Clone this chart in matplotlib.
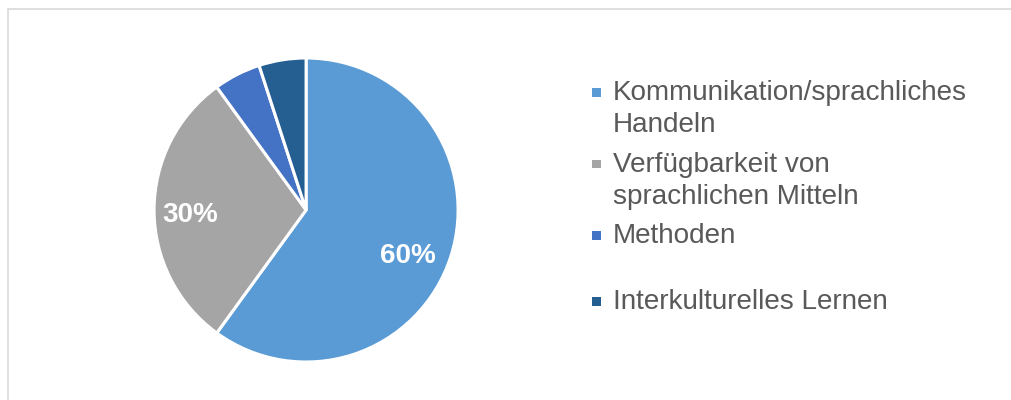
import matplotlib.pyplot as plt
from matplotlib.patches import Rectangle

# data
categories = ['Kommunikation/sprachliches\nHandeln',
              'Verfügbarkeit von\nsprachlichen Mitteln',
              'Methoden',
              'Interkulturelles Lernen']
shares = [60, 30, 5, 5]
colors = ['#5B9BD5', '#A5A5A5', '#4472C4', '#255E91']

plt.rcParams['font.family'] = ['Liberation Sans', 'DejaVu Sans']

fig = plt.figure(figsize=(10.11, 4.00), dpi=100)

# light grey frame, cut off at right and bottom like the source
fig.patches.append(Rectangle((8 / 1011, -0.1), 1.1, 0.1 + 1 - 9 / 400,
                             transform=fig.transFigure, fill=False,
                             edgecolor='#D9D9D9', linewidth=1.2))

ax = fig.add_axes([0.3027 - 0.1503, 0.475 - 0.38, 0.3007, 0.76])


def pct_label(p):
    return '{:.0f}%'.format(p) if p >= 10 else ''


wedges, texts, autotexts = ax.pie(shares, colors=colors, startangle=90,
                                  counterclock=False, autopct=pct_label,
                                  pctdistance=0.74,
                                  wedgeprops=dict(edgecolor='white', linewidth=2.2),
                                  textprops=dict(color='white', fontsize=20,
                                                 fontweight='bold'))
ax.set_xlim(-1, 1)
ax.set_ylim(-1, 1)

# excel "best fit" label spots
autotexts[0].set_position((0.67, -0.30))
autotexts[1].set_position((-0.76, -0.03))

# legend drawn by hand so that markers sit on the first line of each entry
slot_y = [92, 164, 235, 301]
for label, col, y in zip(categories, colors, slot_y):
    fy = 1 - y / 400
    fig.patches.append(Rectangle((592 / 1011, fy - 4.5 / 400), 9 / 1011, 9 / 400,
                                 transform=fig.transFigure, facecolor=col,
                                 edgecolor='none'))
    fig.text(613 / 1011, fy + 12 / 400, label, fontsize=20.1, color='#595959',
             va='top', ha='left', linespacing=1.3)

fig.savefig('out.png', dpi=100)
